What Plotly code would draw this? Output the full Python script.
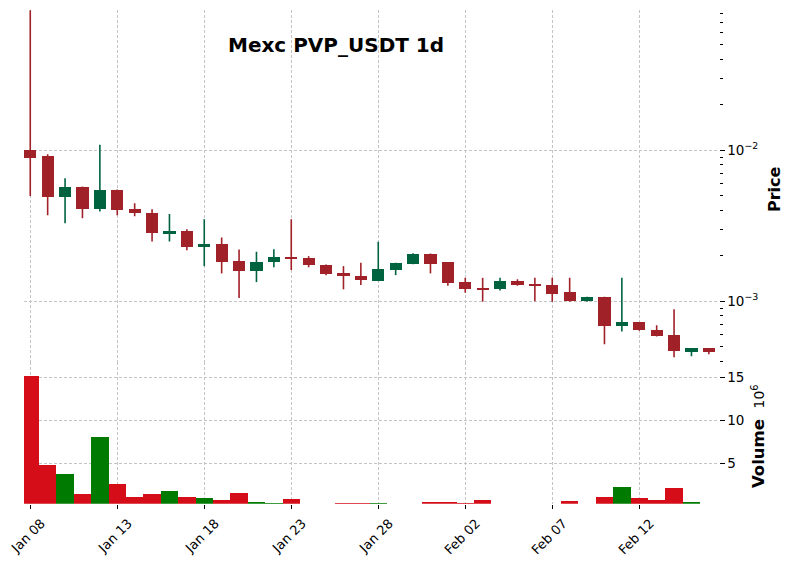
import pandas as pd
import plotly.graph_objects as go

# ---------------- data ----------------
dates = pd.date_range("2025-01-08", periods=40, freq="D")

opens = [0.01005, 0.00907, 0.00485, 0.00571, 0.00408, 0.00546, 0.00408, 0.00385, 0.00281, 0.00289,
         0.00230, 0.00237, 0.00183, 0.00157, 0.00180, 0.00196, 0.00194, 0.00174, 0.00154, 0.00147,
         0.00136, 0.00161, 0.00177, 0.00206, 0.00180, 0.00133, 0.00122, 0.00120, 0.00136, 0.00129,
         0.00127, 0.00114, 0.000994, 0.00107, 0.000679, 0.000721, 0.000646, 0.000598, 0.000461, 0.000486]
highs = [0.0849, 0.00940, 0.00653, 0.00575, 0.01089, 0.00550, 0.00446, 0.00407, 0.00378, 0.00300,
         0.00349, 0.00265, 0.00220, 0.00213, 0.00221, 0.00349, 0.00199, 0.00175, 0.00171, 0.00180,
         0.00248, 0.00180, 0.00208, 0.00207, 0.00180, 0.00143, 0.00143, 0.00143, 0.00140, 0.00143,
         0.00143, 0.00143, 0.00107, 0.00107, 0.00143, 0.000730, 0.000693, 0.000885, 0.000490, 0.000486]
lows = [0.00498, 0.00372, 0.00329, 0.00355, 0.00394, 0.00372, 0.00366, 0.00249, 0.00249, 0.00218,
        0.00171, 0.00153, 0.00105, 0.00134, 0.00168, 0.00161, 0.00168, 0.00149, 0.00120, 0.00128,
        0.00136, 0.00149, 0.00176, 0.00153, 0.00127, 0.00114, 0.000994, 0.00118, 0.00127, 0.00100,
        0.000994, 0.000994, 0.000994, 0.000519, 0.000632, 0.000638, 0.000585, 0.000426, 0.000432, 0.000446]
closes = [0.00889, 0.00485, 0.00571, 0.00408, 0.00546, 0.00403, 0.00380, 0.00281, 0.00289, 0.00229,
          0.00237, 0.00180, 0.00157, 0.00182, 0.00196, 0.00190, 0.00172, 0.00152, 0.00146, 0.00137,
          0.00164, 0.00179, 0.00206, 0.00177, 0.00131, 0.00121, 0.00120, 0.00136, 0.00127, 0.00126,
          0.00112, 0.000994, 0.00107, 0.000679, 0.000721, 0.000638, 0.000589, 0.000464, 0.000486, 0.000457]
volume_millions = [15.15, 4.80, 3.76, 1.43, 8.06, 2.60, 1.09, 1.43, 1.78, 1.09,
                   0.97, 0.74, 1.55, 0.50, 0.35, 0.85, 0.20, 0.15, 0.35, 0.35,
                   0.35, 0.20, 0.25, 0.50, 0.50, 0.35, 0.74, 0.20, 0.15, 0.20,
                   0.25, 0.62, 0.20, 1.09, 2.25, 0.97, 0.74, 2.13, 0.50, 0.10]

tick_every = 5
title_text = "Mexc PVP_USDT 1d"

# ---------------- styling ----------------
UP, DOWN = "#006340", "#a02128"
VUP, VDOWN = "#007a00", "#d50d18"
GRID = "#c4c4c4"
FONT = "DejaVu Sans"
W, H = 793, 568

idx = list(range(len(dates)))
up = [c >= o for o, c in zip(opens, closes)]

body_base = [min(o, c) for o, c in zip(opens, closes)]
body_len = [abs(c - o) for o, c in zip(opens, closes)]
body_col = [UP if u else DOWN for u in up]
vol_col = [VUP if u else VDOWN for u in up]

def wick_xy(flag):
    xs, ys = [], []
    for i in idx:
        if up[i] == flag:
            xs += [i, i, None]
            ys += [lows[i], highs[i], None]
    return xs, ys

fig = go.Figure()
for flag, col in ((True, UP), (False, DOWN)):
    wx, wy = wick_xy(flag)
    fig.add_trace(go.Scatter(x=wx, y=wy, mode="lines", line=dict(color=col, width=1.6),
                             xaxis="x", yaxis="y", hoverinfo="skip", showlegend=False))
fig.add_trace(go.Bar(x=idx, y=body_len, base=body_base, width=0.7,
                     marker=dict(color=body_col, line=dict(width=0)),
                     xaxis="x", yaxis="y", showlegend=False))
fig.add_trace(go.Bar(x=idx, y=volume_millions, width=1.0,
                     marker=dict(color=vol_col, line=dict(width=0)),
                     xaxis="x2", yaxis="y2", showlegend=False))

tickvals = idx[::tick_every]
ticktext = [d.strftime("%b %d") for d in dates[::tick_every]]

left_px, right_px = 24, 718.5
px_per_unit = 17.4
xr = [-0.36, -0.36 + (right_px - left_px) / px_per_unit]
xdom = [left_px / W, right_px / W]

price_top, price_bot, vol_bot = 10.3, 362.0, 503.7
minor_vals = [m * 10 ** e for e in (-4, -3, -2) for m in range(2, 10)]

grid_common = dict(showgrid=True, gridcolor=GRID, gridwidth=0.8, griddash="3px,2px",
                   zeroline=False, showline=False, automargin=False)
tickfont = dict(family=FONT, size=13.5, color="black")

fig.update_layout(
    width=W, height=H,
    margin=dict(l=0, r=0, t=0, b=0, autoexpand=False),
    paper_bgcolor="white", plot_bgcolor="white",
    barmode="overlay", bargap=0,
    showlegend=False,
    font=dict(family=FONT, color="black"),
    xaxis=dict(domain=xdom, range=xr, anchor="y", tickmode="array", tickvals=tickvals,
               showticklabels=False, ticks="", **grid_common),
    xaxis2=dict(domain=xdom, range=xr, anchor="y2", matches="x", tickmode="array",
                tickvals=tickvals, ticktext=ticktext, tickangle=-45, ticks="outside",
                ticklen=4, tickwidth=1, tickcolor="black", ticklabeloverflow="allow",
                ticklabelshift=11, ticklabelstandoff=2,
                tickfont=dict(family=FONT, size=13, color="black"), **grid_common),
    yaxis=dict(type="log", domain=[1 - price_bot / H, 1 - price_top / H],
               range=[-3.402, -1.0728], anchor="x", side="right",
               tickmode="array", tickvals=[0.01, 0.001],
               ticktext=["10<sup>−2</sup>", "10<sup>−3</sup>"],
               ticks="outside", ticklen=5, tickwidth=1, tickcolor="black", tickfont=tickfont,
               minor=dict(tickmode="array", tickvals=minor_vals, ticks="outside",
                          ticklen=3, tickwidth=1, tickcolor="black", showgrid=False),
               **grid_common),
    yaxis2=dict(domain=[1 - vol_bot / H, 1 - price_bot / H], range=[0.30, 16.83],
                anchor="x2", side="right", tickmode="array", tickvals=[5, 10, 15],
                ticks="outside", ticklen=5, tickwidth=1, tickcolor="black", tickfont=tickfont,
                **grid_common),
    annotations=[
        dict(text="<b>" + title_text + "</b>", x=336 / W, y=1 - 45 / H, xref="paper", yref="paper",
             showarrow=False, xanchor="center", yanchor="middle",
             font=dict(family=FONT, size=20, color="black")),
        dict(text="<b>Price</b>", x=774 / W, y=1 - 189 / H, xref="paper", yref="paper",
             showarrow=False, textangle=-90, xanchor="center", yanchor="middle",
             font=dict(family=FONT, size=16, color="black")),
        dict(text="<b>Volume</b>  <span style='font-size:14px'>10<sup>6</sup></span>",
             x=758 / W, y=1 - 436 / H, xref="paper", yref="paper",
             showarrow=False, textangle=-90, xanchor="center", yanchor="middle",
             font=dict(family=FONT, size=16.5, color="black")),
    ],
)

fig.write_html("out.html")
